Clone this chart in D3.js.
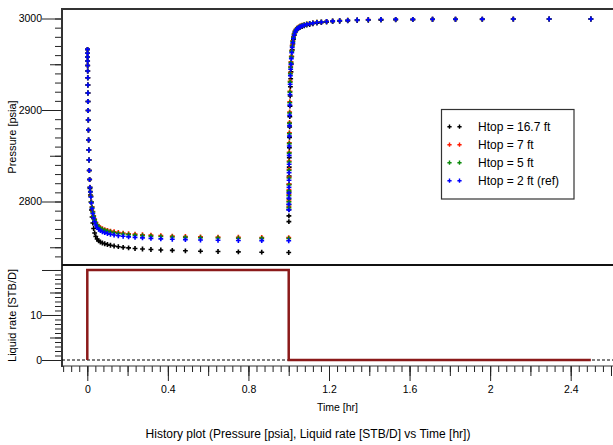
<!DOCTYPE html>
<html>
<head>
<meta charset="utf-8">
<script src="https://cdn.jsdelivr.net/npm/d3@7"></script>
<style>
body { margin: 0; background: #fff; }
text { font-family: "Liberation Sans", Arial, Helvetica, sans-serif; }
</style>
</head>
<body>
<script>
// drawdown (0-1 hr) and build-up (1-2.5 hr) sample times
var ddTimes = [0.001, 0.00115, 0.00133, 0.00154, 0.00178, 0.00205, 0.00237, 0.00274, 0.00316, 0.00365, 0.00422, 0.00487, 0.00562, 0.00649, 0.0075, 0.00866,
	0.01, 0.0115, 0.0133, 0.0154, 0.0178, 0.0205, 0.0237, 0.0274, 0.0316, 0.0365, 0.0422, 0.0487, 0.0562, 0.0649, 0.075, 0.0866,
	0.1, 0.115, 0.133, 0.154, 0.178, 0.205, 0.237, 0.274, 0.316, 0.365, 0.422, 0.487, 0.562, 0.649, 0.75, 0.866, 1.0];
var buTimes = [1.0008, 1.0009, 1.001, 1.0012, 1.0014, 1.0016, 1.0019, 1.0022, 1.0025, 1.0029, 1.0034, 1.004, 1.0046, 1.0053, 1.0062, 1.0072,
	1.0083, 1.0097, 1.0112, 1.013, 1.0151, 1.0175, 1.0203, 1.0235, 1.0273, 1.0317, 1.0367, 1.0426, 1.0494, 1.0573, 1.0665, 1.0771,
	1.0895, 1.104, 1.12, 1.14, 1.162, 1.188, 1.218, 1.253, 1.293, 1.34, 1.395, 1.458, 1.531, 1.616, 1.714, 1.828, 1.961, 2.115, 2.293, 2.5];

// pressure [psia], Htop = 16.7 ft
var ddBlack = [2966.3, 2962.0, 2957.9, 2953.6, 2948.6, 2942.6, 2935.3, 2927.3, 2918.6, 2909.3, 2899.5, 2889.1, 2878.1, 2867.2, 2856.3, 2845.4, 2833.9, 2824.0,
	2814.2, 2807.1, 2799.5, 2790.7, 2783.1, 2776.5, 2770.5, 2765.6, 2761.7, 2759.0, 2757.0, 2755.7, 2754.6, 2753.8, 2753.0, 2752.2,
	2751.4, 2750.6, 2749.9, 2749.3, 2748.6, 2748.1, 2747.5, 2747.0, 2746.6, 2746.1, 2745.7, 2745.4, 2744.9, 2744.6, 2744.3];
var buBlack = [2778.0, 2784.3, 2791.1, 2796.4, 2802.7, 2810.4, 2818.8, 2827.9, 2837.6, 2847.9, 2858.8, 2870.1, 2881.5, 2892.7, 2904.2, 2915.3,
	2925.4, 2934.1, 2941.7, 2950.3, 2958.5, 2965.7, 2972.1, 2977.5, 2981.7, 2984.8, 2987.0, 2988.4, 2989.5, 2990.4, 2991.2, 2992.0,
	2992.8, 2993.5, 2994.3, 2994.9, 2995.5, 2996.0, 2996.6, 2997.0, 2997.4, 2997.8, 2998.1, 2998.3, 2998.6, 2998.7, 2998.9, 2999.1, 2999.1, 2999.3, 2999.4, 2999.5];

// Htop = 7 ft
var ddRed = [2966.3, 2962.0, 2957.9, 2953.6, 2948.6, 2942.6, 2935.3, 2927.3, 2918.6, 2909.3, 2899.5, 2889.1, 2878.1, 2867.2, 2856.3, 2845.4, 2833.9, 2824.0,
	2815.6, 2811.0, 2805.9, 2799.8, 2794.1, 2789.1, 2784.5, 2780.7, 2777.3, 2774.7, 2772.8, 2771.4, 2770.2, 2769.3, 2768.4, 2767.6,
	2766.9, 2766.1, 2765.5, 2764.8, 2764.3, 2763.7, 2763.2, 2762.7, 2762.2, 2761.8, 2761.4, 2761.1, 2760.9, 2760.7, 2760.6];
var buRed = [2794.3, 2800.6, 2807.4, 2812.7, 2819.0, 2826.7, 2835.1, 2844.2, 2853.9, 2864.2, 2875.1, 2886.4, 2897.8, 2909.0, 2920.5, 2931.4,
	2940.7, 2947.4, 2952.6, 2958.7, 2965.0, 2970.6, 2975.6, 2979.9, 2983.5, 2986.3, 2988.3, 2989.8, 2990.9, 2991.8, 2992.7, 2993.4,
	2994.1, 2994.7, 2995.4, 2996.0, 2996.4, 2996.9, 2997.4, 2997.8, 2998.1, 2998.5, 2998.8, 2998.9, 2999.1, 2999.1, 2999.2, 2999.2, 2999.3, 2999.4, 2999.5, 2999.5];

// Htop = 5 ft
var ddGreen = [2966.3, 2962.0, 2957.9, 2953.6, 2948.6, 2942.6, 2935.3, 2927.3, 2918.6, 2909.3, 2899.5, 2889.1, 2878.1, 2867.2, 2856.3, 2845.4, 2833.9, 2824.0,
	2815.5, 2810.8, 2805.6, 2799.4, 2793.6, 2788.5, 2783.8, 2779.9, 2776.5, 2773.9, 2772.0, 2770.5, 2769.4, 2768.4, 2767.5, 2766.7,
	2765.9, 2765.1, 2764.5, 2763.8, 2763.3, 2762.7, 2762.2, 2761.7, 2761.2, 2760.8, 2760.4, 2760.1, 2759.9, 2759.7, 2759.6];
var buGreen = [2793.3, 2799.6, 2806.4, 2811.7, 2818.0, 2825.7, 2834.1, 2843.2, 2852.9, 2863.2, 2874.1, 2885.4, 2896.8, 2908.0, 2919.5, 2930.5,
	2939.8, 2946.6, 2951.8, 2958.0, 2964.3, 2970.0, 2975.1, 2979.4, 2983.1, 2985.9, 2988.0, 2989.5, 2990.6, 2991.6, 2992.5, 2993.2,
	2994.0, 2994.6, 2995.3, 2995.9, 2996.3, 2996.8, 2997.3, 2997.7, 2998.1, 2998.5, 2998.7, 2998.9, 2999.1, 2999.1, 2999.2, 2999.2, 2999.3, 2999.4, 2999.5, 2999.5];

// Htop = 2 ft (ref)
var ddBlue = [2966.3, 2962.0, 2957.9, 2953.6, 2948.6, 2942.6, 2935.3, 2927.3, 2918.6, 2909.3, 2899.5, 2889.1, 2878.1, 2867.2, 2856.3, 2845.4, 2833.9, 2824.0,
	2815.3, 2810.4, 2804.9, 2798.4, 2792.3, 2786.9, 2782.0, 2777.9, 2774.3, 2771.6, 2769.6, 2768.1, 2766.9, 2765.9, 2765.0, 2764.2,
	2763.4, 2762.6, 2762.0, 2761.3, 2760.8, 2760.2, 2759.7, 2759.2, 2758.7, 2758.3, 2757.9, 2757.6, 2757.4, 2757.2, 2757.1];
var buBlue = [2790.8, 2797.1, 2803.9, 2809.2, 2815.5, 2823.2, 2831.6, 2840.7, 2850.4, 2860.7, 2871.6, 2882.9, 2894.3, 2905.5, 2917.0, 2928.1,
	2937.6, 2944.5, 2949.9, 2956.2, 2962.7, 2968.5, 2973.7, 2978.2, 2982.0, 2985.0, 2987.2, 2988.8, 2990.0, 2991.0, 2992.0, 2992.8,
	2993.6, 2994.3, 2995.0, 2995.7, 2996.1, 2996.7, 2997.2, 2997.6, 2998.0, 2998.4, 2998.7, 2998.9, 2999.1, 2999.1, 2999.2, 2999.2, 2999.3, 2999.4, 2999.5, 2999.5];

var seriesNames = ["Htop = 16.7 ft", "Htop = 7 ft", "Htop = 5 ft", "Htop = 2 ft (ref)"];
var seriesColors = ["#000000", "#ff1a00", "#0a8a0a", "#0000ff"];

// liquid rate history [STB/D]
var rateTimes = [0, 0, 1, 1, 2.5];
var rateValues = [0, 20, 20, 0, 0];

var pressureLabels = [2800, 2900, 3000];
var rateLabels = [0, 10];
var timeLabels = [0, 0.4, 0.8, 1.2, 1.6, 2, 2.4];

var series = [
	{ name: seriesNames[0], color: seriesColors[0], p: ddBlack.concat(buBlack) },
	{ name: seriesNames[1], color: seriesColors[1], p: ddRed.concat(buRed) },
	{ name: seriesNames[2], color: seriesColors[2], p: ddGreen.concat(buGreen) },
	{ name: seriesNames[3], color: seriesColors[3], p: ddBlue.concat(buBlue) }
];
var allTimes = ddTimes.concat(buTimes);

var W = 613, H = 445;
var xL = 62, xR = 613, yT = 9, yM = 265, yB = 366;

var x = d3.scaleLinear()
				.domain([-0.1256, 2.61])
				.range([xL, xR]);

var y = d3.scaleLinear()
				.domain([2730.6, 3010.4])
				.range([yM, yT]);

var yRate = d3.scaleLinear()
				.domain([-1.333, 21.11])
				.range([yB, yM]);

var svg = d3.select("body").append("svg")
			.attr("width", W)
			.attr("height", H);

svg.append("rect").attr("width", W).attr("height", H).attr("fill", "#fff");

// ---- axis ticks
function tickGroup(axis, tx, ty) {
	var g = svg.append("g")
		.attr("transform", "translate(" + tx + "," + ty + ")")
		.call(axis);
	g.select(".domain").remove();
	g.selectAll("line").attr("stroke", "#222").attr("stroke-width", 1);
	g.selectAll("text").attr("font-size", "10.5px").attr("fill", "#000")
		.attr("font-family", "'Liberation Sans', Arial, sans-serif");
	return g;
}

var pMinor = d3.range(274, 301).map(function(i){ return i*10; });
var pMid = [2750, 2850, 2950];
tickGroup(d3.axisLeft(y).tickValues(pMinor).tickSize(7).tickFormat(""), xL, 0);
tickGroup(d3.axisLeft(y).tickValues(pMid).tickSize(12).tickFormat(""), xL, 0);
tickGroup(d3.axisLeft(y).tickValues(pressureLabels).tickSize(20).tickPadding(0).tickFormat(d3.format("d")), xL, 0);

var qMinor = d3.range(0, 21);
tickGroup(d3.axisLeft(yRate).tickValues(qMinor).tickSize(7).tickFormat(""), xL, 0);
tickGroup(d3.axisLeft(yRate).tickValues([5, 15]).tickSize(12).tickFormat(""), xL, 0);
tickGroup(d3.axisLeft(yRate).tickValues([20]).tickSize(20).tickFormat(""), xL, 0);
tickGroup(d3.axisLeft(yRate).tickValues(rateLabels).tickSize(20).tickPadding(0).tickFormat(d3.format("d")), xL, 0);

var tMinor = d3.range(-3, 66).map(function(i){ return +(i*0.04).toFixed(2); });
var tMid = d3.range(0, 14).map(function(i){ return +(i*0.2).toFixed(1); });
tickGroup(d3.axisBottom(x).tickValues(tMinor).tickSize(6).tickFormat(""), 0, yB);
tickGroup(d3.axisBottom(x).tickValues(tMid).tickSize(10).tickFormat(""), 0, yB);
tickGroup(d3.axisBottom(x).tickValues(timeLabels).tickSize(15).tickPadding(5).tickFormat(d3.format("~g")), 0, yB);

// ---- frame
svg.append("line").attr("x1", xL).attr("x2", xR).attr("y1", yT).attr("y2", yT)
	.attr("stroke", "#333").attr("stroke-width", 2);
svg.append("line").attr("x1", xL).attr("x2", xL).attr("y1", yT - 1).attr("y2", yB + 1)
	.attr("stroke", "#333").attr("stroke-width", 2);
svg.append("line").attr("x1", xL).attr("x2", xR).attr("y1", yB).attr("y2", yB)
	.attr("stroke", "#333").attr("stroke-width", 1);

// ---- rate panel
svg.append("line")
	.attr("x1", xL).attr("x2", xR)
	.attr("y1", yRate(0)).attr("y2", yRate(0))
	.attr("stroke", "#000").attr("stroke-width", 1)
	.attr("stroke-dasharray", "3,2");

var rateLine = d3.line()
	.x(function(d){ return x(d[0]); })
	.y(function(d){ return yRate(d[1]); });

svg.append("path")
	.datum(d3.zip(rateTimes, rateValues))
	.attr("d", rateLine)
	.attr("fill", "none")
	.attr("stroke", "#8b1a1a")
	.attr("stroke-width", 2.5);

svg.append("line").attr("x1", xL).attr("x2", xR).attr("y1", yM).attr("y2", yM)
	.attr("stroke", "#111").attr("stroke-width", 2);

// ---- pressure points
var marker = d3.symbol().type(d3.symbolCross).size(13);

series.forEach(function(s){
	svg.append("g").selectAll("path")
		.data(d3.zip(allTimes, s.p))
		.enter().append("path")
			.attr("d", marker)
			.attr("transform", function(d){ return "translate(" + x(d[0]) + "," + y(d[1]) + ")"; })
			.attr("fill", s.color);
});

// ---- legend
var lg = svg.append("g");
lg.append("rect")
	.attr("x", 441.5).attr("y", 109.5)
	.attr("width", 132.5).attr("height", 89.5)
	.attr("fill", "#fff").attr("stroke", "#333").attr("stroke-width", 1.2);

var items = lg.selectAll("g.item")
	.data(series)
	.enter().append("g")
		.attr("class", "item")
		.attr("transform", function(d,i){ return "translate(0," + (126.7 + i*18) + ")"; });

items.selectAll("path")
	.data(function(d){ return [d, d]; })
	.enter().append("path")
		.attr("d", d3.symbol().type(d3.symbolCross).size(10))
		.attr("transform", function(d,i){ return "translate(" + (449.5 + i*10) + ",0)"; })
		.attr("fill", function(d){ return d.color; });

items.append("text")
	.attr("x", 478)
	.attr("dy", "0.36em")
	.attr("font-size", "12px")
	.text(function(d){ return d.name; });

// ---- labels
svg.append("text")
	.attr("transform", "translate(16," + ((yT + yM)/2) + ") rotate(-90)")
	.attr("text-anchor", "middle")
	.attr("font-size", "11px")
	.text("Pressure [psia]");

svg.append("text")
	.attr("transform", "translate(16," + ((yM + yB)/2) + ") rotate(-90)")
	.attr("text-anchor", "middle")
	.attr("font-size", "11px")
	.text("Liquid rate [STB/D]");

svg.append("text")
	.attr("x", (xL + xR)/2)
	.attr("y", 411)
	.attr("text-anchor", "middle")
	.attr("font-size", "10.5px")
	.text("Time [hr]");

svg.append("text")
	.attr("x", 308)
	.attr("y", 438)
	.attr("text-anchor", "middle")
	.attr("font-size", "12px")
	.text("History plot (Pressure [psia], Liquid rate [STB/D] vs Time [hr])");
</script>
</body>
</html>
